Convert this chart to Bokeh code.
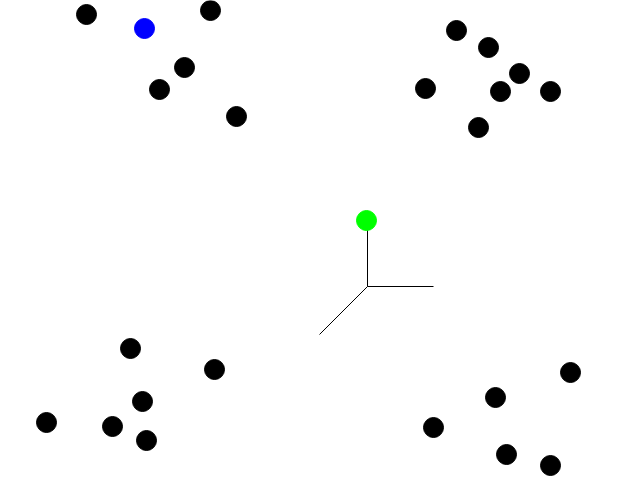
from bokeh.plotting import figure
from bokeh.models import Range1d
from bokeh.embed import file_html
from bokeh.resources import INLINE

# Projected point positions (pixel-like units, y grows downward)
black_x = [86, 210, 184, 159, 236,
           456, 488, 519, 425, 500, 550, 478,
           130, 214, 142, 46, 112, 146,
           570, 495, 433, 506, 550]
black_y = [14, 10, 67, 89, 116,
           30, 47, 73, 88, 91, 91, 127,
           348, 369, 401, 422, 426, 440,
           372, 397, 427, 454, 465]
blue_x = [144]
blue_y = [28]
green_x = [366]
green_y = [220]

# Axis tripod: origin and end points
origin_x = [367, 367, 367]
origin_y = [286, 286, 286]
axis_end_x = [367, 433, 319]
axis_end_y = [220, 286, 334]

p = figure(width=640, height=480, output_backend="svg", toolbar_location=None,
           x_range=Range1d(0, 640), y_range=Range1d(480, 0),
           min_border=0, min_border_left=0, min_border_right=0,
           min_border_top=0, min_border_bottom=0)
p.axis.visible = False
p.xgrid.visible = False
p.ygrid.visible = False
p.outline_line_color = None
p.background_fill_color = "white"
p.border_fill_color = "white"

p.segment(x0=origin_x, y0=origin_y, x1=axis_end_x, y1=axis_end_y,
          line_color="black", line_width=1)
p.scatter(black_x, black_y, size=20, color="black")
p.scatter(blue_x, blue_y, size=20, color="#0000ff")
p.scatter(green_x, green_y, size=20, color="#00ff00")

open("out.html", "w").write(file_html(p, INLINE))
